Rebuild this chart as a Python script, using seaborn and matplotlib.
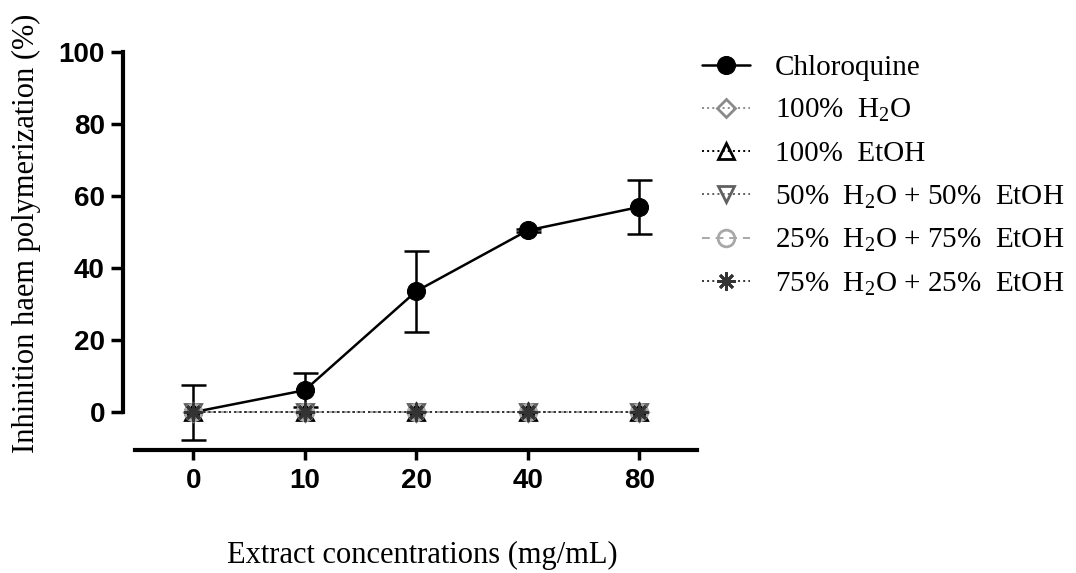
import pandas as pd
import seaborn as sns
import matplotlib.pyplot as plt

# Data
conc_labels = ['0', '10', '20', '40', '80']
conc_pos = [0, 1, 2, 3, 4]
chloroquine = [0.0, 6.1, 33.6, 50.5, 57.0]
chloroquine_err = [7.6, 4.8, 11.2, 0.4, 7.5]
h2o_100 = [0.0, 0.0, 0.0, 0.0, 0.0]
etoh_100 = [0.0, 0.0, 0.0, 0.0, 0.0]
h2o50_etoh50 = [0.0, 0.0, 0.0, 0.0, 0.0]
h2o25_etoh75 = [0.0, 0.0, 0.0, 0.0, 0.0]
h2o75_etoh25 = [0.0, 0.0, 0.0, 0.0, 0.0]

sns.set_style('ticks')
plt.rcParams['font.family'] = ['Liberation Serif', 'DejaVu Serif']
plt.rcParams['mathtext.fontset'] = 'custom'
plt.rcParams['mathtext.rm'] = 'Liberation Serif'
plt.rcParams['mathtext.it'] = 'Liberation Serif:italic'
plt.rcParams['text.color'] = 'black'
plt.rcParams['axes.labelcolor'] = 'black'
plt.rcParams['xtick.color'] = 'black'
plt.rcParams['ytick.color'] = 'black'

fig = plt.figure(figsize=(10.76, 5.73), dpi=100)
ax = fig.add_axes([0.1143, 0.2147, 0.5317, 0.7068])

df = pd.DataFrame({'x': conc_pos, 'chloroquine': chloroquine})

# Chloroquine with error bars
ax.errorbar(conc_pos, chloroquine, yerr=chloroquine_err, fmt='none', ecolor='black',
            elinewidth=1.8, capsize=9, capthick=1.8, zorder=2)
sns.lineplot(data=df, x='x', y='chloroquine', ax=ax, color='black', lw=1.8,
             marker='o', markersize=13, markerfacecolor='black', markeredgecolor='black',
             label='Chloroquine', zorder=3)

# Extracts (all zero)
series = [
    (h2o_100, r'100%  H$_\mathrm{2}$O', '#8a8a8a', ':', 'D', 9),
    (etoh_100, '100%  EtOH', 'black', ':', '^', 11),
    (h2o50_etoh50, r'50%  H$_\mathrm{2}$O + 50%  EtOH', '#606060', ':', 'v', 11),
    (h2o25_etoh75, r'25%  H$_\mathrm{2}$O + 75%  EtOH', '#a8a8a8', (0, (4, 3)), 'o', 12),
    (h2o75_etoh25, r'75%  H$_\mathrm{2}$O + 25%  EtOH', '#333333', ':', (8, 2, 0), 13),
]
for vals, lab, col, ls, mk, ms in series:
    d = pd.DataFrame({'x': conc_pos, 'y': vals})
    fc = col if mk == (8, 2, 0) else 'none'
    sns.lineplot(data=d, x='x', y='y', ax=ax, color=col, lw=1.4, linestyle=ls,
                 marker=mk, markersize=ms, markerfacecolor=fc, markeredgecolor=col,
                 markeredgewidth=2, label=lab, zorder=4)

ax.set_xlim(-0.63, 4.5)
ax.set_ylim(-10.5, 102)
ax.set_xticks(conc_pos)
ax.set_xticklabels(conc_labels)
ax.set_yticks([0, 20, 40, 60, 80, 100])
for t in ax.get_xticklabels() + ax.get_yticklabels():
    t.set_family('Liberation Sans')
    t.set_fontweight('bold')
    t.set_fontsize(20)
ax.tick_params(axis='both', width=2.5, length=9, color='black')
ax.tick_params(axis='x', length=7, pad=6)
ax.tick_params(axis='y', pad=4)

sns.despine(ax=ax)
for s in ['left', 'bottom']:
    ax.spines[s].set_linewidth(3)
    ax.spines[s].set_color('black')
ax.spines['left'].set_bounds(0, 100)
ax.spines['bottom'].set_bounds(-0.52, 4.52)

ax.set_xlabel('Extract concentrations (mg/mL)', fontsize=22)
ax.xaxis.set_label_coords(0.523, -0.225)
ax.set_ylabel('Inhinition haem polymerization (%)', fontsize=22)
ax.yaxis.set_label_coords(-0.143, 0.536)

ax.legend(loc='upper left', bbox_to_anchor=(0.652, 0.905), bbox_transform=fig.transFigure,
          frameon=False, fontsize=21, handlelength=1.65, handletextpad=0.86,
          labelspacing=0.56, borderaxespad=0, borderpad=0)

fig.savefig('out.png', dpi=100)
